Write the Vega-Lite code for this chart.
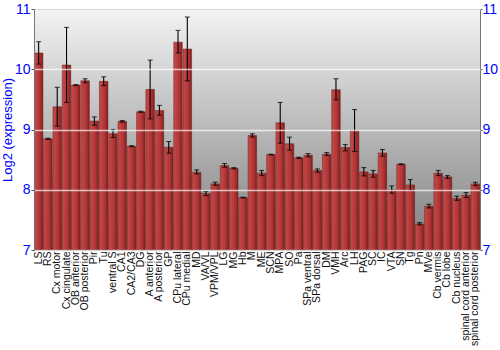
{
  "$schema": "https://vega.github.io/schema/vega-lite/v6.json",
  "autosize": {"type": "none"},
  "width": 446,
  "height": 241,
  "padding": {"left": 34, "top": 9, "right": 20, "bottom": 100},
  "background": "white",
  "config": {
    "font": "Liberation Sans",
    "view": {
      "stroke": "#777777",
      "strokeWidth": 1,
      "fill": {"gradient": "linear", "x1": 0, "y1": 0, "x2": 0, "y2": 1, "stops": [{"offset": 0, "color": "#f3f3f3"}, {"offset": 1, "color": "#7e7e7e"}]}
    }
  },
  "data": {
    "values": [
      {"region": "LS", "value": 10.27, "lo": 10.086, "hi": 10.457},
      {"region": "RS", "value": 8.845, "lo": 8.835, "hi": 8.855},
      {"region": "Cx motor", "value": 9.377, "lo": 9.055, "hi": 9.70},
      {"region": "Cx cingulate", "value": 10.07, "lo": 9.449, "hi": 10.695},
      {"region": "OB anterior", "value": 9.737, "lo": 9.73, "hi": 9.745},
      {"region": "OB posterior", "value": 9.809, "lo": 9.776, "hi": 9.842},
      {"region": "Pir", "value": 9.14, "lo": 9.072, "hi": 9.21},
      {"region": "Tu", "value": 9.80, "lo": 9.73, "hi": 9.875},
      {"region": "ventral S", "value": 8.93, "lo": 8.867, "hi": 9.0},
      {"region": "CA1", "value": 9.135, "lo": 9.122, "hi": 9.148},
      {"region": "CA2/CA3", "value": 8.723, "lo": 8.715, "hi": 8.731},
      {"region": "DG", "value": 9.294, "lo": 9.284, "hi": 9.304},
      {"region": "A anterior", "value": 9.665, "lo": 9.177, "hi": 10.152},
      {"region": "A posterior", "value": 9.316, "lo": 9.238, "hi": 9.40},
      {"region": "GP", "value": 8.706, "lo": 8.607, "hi": 8.80},
      {"region": "CPu lateral", "value": 10.45, "lo": 10.27, "hi": 10.645},
      {"region": "CPu medial", "value": 10.335, "lo": 9.809, "hi": 10.867},
      {"region": "MD", "value": 8.29, "lo": 8.263, "hi": 8.33},
      {"region": "VA/VL", "value": 7.936, "lo": 7.903, "hi": 7.97},
      {"region": "VPM/VPL", "value": 8.097, "lo": 8.075, "hi": 8.125},
      {"region": "LG", "value": 8.40, "lo": 8.374, "hi": 8.435},
      {"region": "MG", "value": 8.357, "lo": 8.347, "hi": 8.367},
      {"region": "Hb", "value": 7.87, "lo": 7.863, "hi": 7.877},
      {"region": "M", "value": 8.90, "lo": 8.875, "hi": 8.928},
      {"region": "ME", "value": 8.274, "lo": 8.235, "hi": 8.32},
      {"region": "SCN", "value": 8.584, "lo": 8.578, "hi": 8.59},
      {"region": "MPA", "value": 9.11, "lo": 8.773, "hi": 9.449},
      {"region": "SO", "value": 8.762, "lo": 8.656, "hi": 8.873},
      {"region": "Pa", "value": 8.53, "lo": 8.52, "hi": 8.54},
      {"region": "SPa ventral", "value": 8.573, "lo": 8.546, "hi": 8.60},
      {"region": "SPa dorsal", "value": 8.319, "lo": 8.291, "hi": 8.346},
      {"region": "DM", "value": 8.59, "lo": 8.568, "hi": 8.617},
      {"region": "VMH", "value": 9.66, "lo": 9.493, "hi": 9.842},
      {"region": "Arc", "value": 8.70, "lo": 8.645, "hi": 8.751},
      {"region": "LH", "value": 8.98, "lo": 8.634, "hi": 9.332},
      {"region": "PAG", "value": 8.296, "lo": 8.23, "hi": 8.368},
      {"region": "SC", "value": 8.263, "lo": 8.208, "hi": 8.32},
      {"region": "IC", "value": 8.612, "lo": 8.557, "hi": 8.668},
      {"region": "VTA", "value": 7.997, "lo": 7.942, "hi": 8.064},
      {"region": "SN", "value": 8.424, "lo": 8.418, "hi": 8.43},
      {"region": "Tg", "value": 8.08, "lo": 7.992, "hi": 8.169},
      {"region": "Pn", "value": 7.432, "lo": 7.416, "hi": 7.454},
      {"region": "MVe", "value": 7.726, "lo": 7.698, "hi": 7.759},
      {"region": "Cb vermis", "value": 8.274, "lo": 8.235, "hi": 8.32},
      {"region": "Cb lobe", "value": 8.213, "lo": 8.19, "hi": 8.235},
      {"region": "Cb nucleus", "value": 7.853, "lo": 7.825, "hi": 7.892},
      {"region": "spinal cord anterior", "value": 7.909, "lo": 7.87, "hi": 7.953},
      {"region": "spinal cord posterior", "value": 8.097, "lo": 8.07, "hi": 8.125}
    ]
  },
  "encoding": {
    "x": {
      "field": "region",
      "type": "nominal",
      "sort": null,
      "scale": {"paddingInner": 0.08, "paddingOuter": 0.04},
      "axis": {
        "title": null,
        "labelAngle": -90,
        "labelFontSize": 10.5,
        "labelColor": "#111111",
        "labelPadding": 1,
        "labelLimit": 200,
        "ticks": false,
        "domain": false,
        "labelOverlap": false
      }
    }
  },
  "layer": [
    {
      "mark": {
        "type": "bar",
        "fill": {"gradient": "linear", "x1": 0, "y1": 0, "x2": 1, "y2": 0, "stops": [{"offset": 0, "color": "#c84a4a"}, {"offset": 0.6, "color": "#b23636"}, {"offset": 1, "color": "#7e2020"}]},
        "stroke": "#6e1c1c",
        "strokeWidth": 0.5
      },
      "encoding": {
        "y": {
          "field": "value",
          "type": "quantitative",
          "scale": {"domain": [7, 11], "nice": false, "zero": false},
          "axis": {
            "orient": "left",
            "title": "Log2 (expression)",
            "titleColor": "#0000ff",
            "titleFontSize": 13,
            "titleFontWeight": "normal",
            "titlePadding": 0,
            "labelColor": "#0000ff",
            "labelFontSize": 14,
            "labelPadding": 1,
            "values": [7, 8, 9, 10, 11],
            "labelOverlap": false,
            "tickColor": "#555555",
            "tickSize": 3,
            "domainColor": "#777777",
            "gridColor": "#ffffff",
            "gridOpacity": 0.7,
            "gridWidth": 1.5,
            "zindex": 1
          }
        },
        "y2": {"datum": 7}
      }
    },
    {
      "mark": {"type": "errorbar", "ticks": {"size": 5, "color": "#000000"}, "color": "#000000", "thickness": 1.1},
      "encoding": {
        "y": {
          "field": "lo",
          "type": "quantitative",
          "scale": {"domain": [7, 11], "nice": false, "zero": false},
          "axis": {
            "orient": "right",
            "title": null,
            "labelColor": "#0000ff",
            "labelFontSize": 14,
            "labelPadding": 0,
            "values": [7, 8, 9, 10, 11],
            "labelOverlap": false,
            "tickColor": "#555555",
            "tickSize": 2,
            "domainColor": "#777777",
            "grid": false
          }
        },
        "y2": {"field": "hi"}
      }
    }
  ],
  "resolve": {"scale": {"y": "shared"}, "axis": {"y": "independent"}}
}
